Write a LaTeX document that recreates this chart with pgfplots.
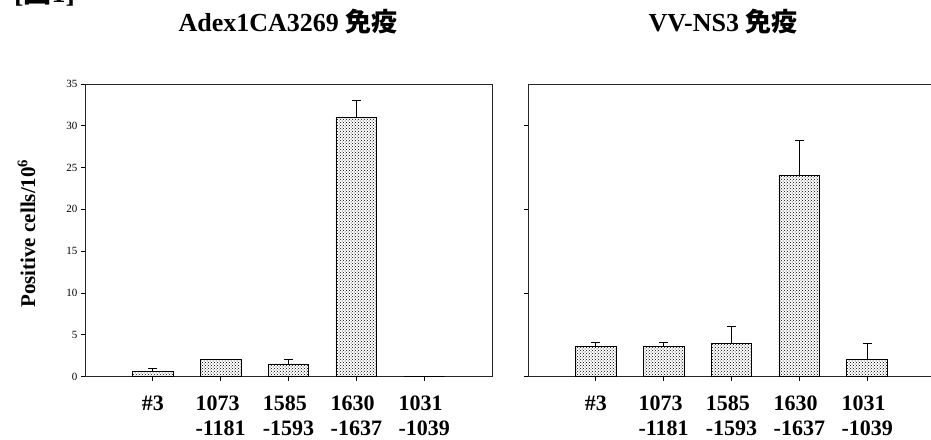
\documentclass[border=0pt]{standalone}
\usepackage{pgfplots}
\pgfplotsset{compat=1.18}
\usetikzlibrary{patterns}
\usepackage{fontspec}
\setmainfont{Liberation Serif}
\newfontfamily\cjk{Noto Sans CJK JP}
\pgfplotstableread{
x y e
0 0.6 0.4
1 2.0 0.0
2 1.5 0.5
3 31.0 2.0
4 0.0 0.0
}\adex
\pgfplotstableread{
x y e
0 3.6 0.5
1 3.6 0.5
2 4.0 2.0
3 24.1 4.1
4 2.0 2.0
}\vvns
\pgfplotsset{
  mypanel/.style={
    scale only axis, width=407pt, height=292.5pt,
    xmin=-1, xmax=5, ymin=0, ymax=35,
    ybar, bar width=0.6,
    axis line style={black!85, line width=0.9pt},
    tick style={black, line width=0.7pt},
    tick align=outside, major tick length=4pt,
    xtick pos=bottom, ytick pos=left,
    xtick={0,1,2,3,4},
    xticklabels={{\#3},{1073\\-1181},{1585\\-1593},{1630\\-1637},{1031\\-1039}},
    xticklabel style={align=left, font=\bfseries\fontsize{22}{25}\selectfont, anchor=north, yshift=-12pt},
    /pgf/number format/assume math mode=true,
    yticklabel style={font=\fontsize{11}{12}\selectfont},
  },
  mybar/.style={
    draw=black, line width=0.8pt, pattern=crosshatch dots,
    error bars/.cd, y dir=plus, y explicit,
    error bar style={black, line width=0.9pt},
    error mark options={rotate=90, mark size=4.5pt, black, line width=0.9pt},
  },
}
\begin{document}
\begin{tikzpicture}
\begin{axis}[mypanel, at={(85pt,62.5pt)}, anchor=south west,
  ytick={0,5,...,35}]
\addplot[mybar] table[x=x, y=y, y error=e] {\adex};
\end{axis}
\begin{axis}[mypanel, at={(528pt,62.5pt)}, anchor=south west,
  ytick={0,10,20,30}, yticklabels={}]
\addplot[mybar] table[x=x, y=y, y error=e] {\vvns};
\end{axis}
\node[anchor=base, font=\bfseries\fontsize{26}{30}\selectfont] at (288pt,407pt) {Adex1CA3269 {\cjk 免疫}};
\node[anchor=base, font=\bfseries\fontsize{26}{30}\selectfont] at (723pt,407pt) {VV-NS3 {\cjk 免疫}};
\node[rotate=90, anchor=base, font=\bfseries\fontsize{21}{24}\selectfont] at (35pt,205.5pt) {Positive cells/10\textsuperscript{6}};
\node[anchor=base west, inner sep=0pt, font=\bfseries\fontsize{28}{32}\selectfont] at (14pt,436pt) {[{\cjk 図}1]};
\pgfresetboundingbox
\useasboundingbox (0pt,0pt) rectangle (931pt,439pt);
\end{tikzpicture}
\end{document}
